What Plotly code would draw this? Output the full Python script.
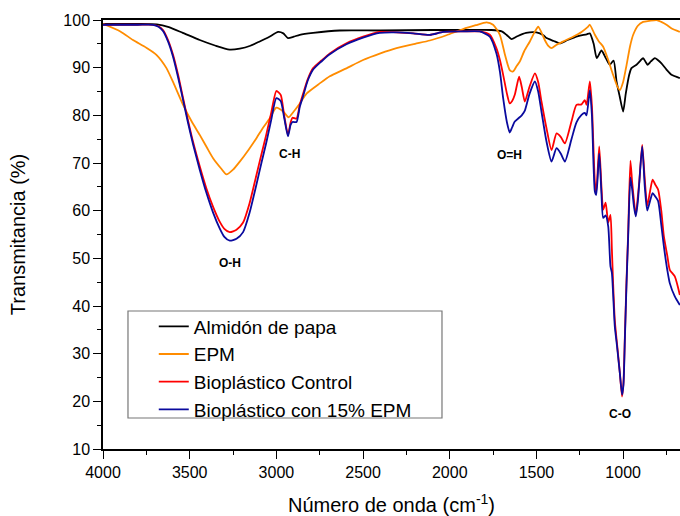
import plotly.graph_objects as go

# ---------------- data (wavenumber cm-1, transmittance %) ----------------
almidon_x = [4000, 3800, 3690, 3620, 3540, 3442, 3350, 3270, 3211, 3150, 3096, 3040, 2990, 2960, 2933,
             2900, 2865, 2788, 2634, 2400, 2100, 1900, 1760, 1700, 1670, 1644, 1610, 1560, 1500, 1460,
             1442, 1400, 1365, 1320, 1260, 1210, 1192, 1170, 1152, 1125, 1100, 1077, 1055, 1038, 1020,
             1000, 985, 965, 952, 923, 900, 885, 870, 858, 840, 817, 800, 779, 750, 721, 673]
almidon_y = [99.2, 99.2, 99.1, 98.5, 97.3, 95.8, 94.6, 93.8, 94.0, 94.6, 95.5, 96.5, 97.5, 97.2, 96.2,
             96.5, 96.9, 97.3, 97.8, 97.8, 97.9, 97.9, 97.9, 97.6, 96.8, 96.0, 96.6, 97.3, 97.4, 96.8,
             96.2, 95.6, 95.1, 95.8, 96.6, 97.0, 97.2, 95.0, 92.0, 93.6, 92.0, 90.6, 91.5, 87.1, 84.0,
             80.8, 84.5, 88.5, 89.9, 90.6, 91.5, 92.0, 91.2, 90.6, 91.3, 92.0, 91.6, 90.9, 89.6, 88.5, 87.8]

epm_x = [4000, 3900, 3827, 3750, 3692, 3634, 3590, 3538, 3490, 3442, 3400, 3365, 3320, 3288, 3250,
         3211, 3160, 3115, 3075, 3038, 3000, 2961, 2930, 2900, 2865, 2825, 2750, 2692, 2600, 2500,
         2400, 2307, 2200, 2115, 2019, 1923, 1850, 1788, 1750, 1711, 1680, 1654, 1635, 1615, 1596,
         1570, 1538, 1510, 1490, 1470, 1452, 1430, 1413, 1384, 1340, 1289, 1240, 1205, 1192, 1163,
         1140, 1115, 1085, 1058, 1035, 1019, 1000, 980, 960, 942, 915, 885, 850, 807, 780, 750, 720, 673]
epm_y = [99.2, 97.6, 95.8, 94.2, 92.7, 89.9, 86.5, 82.2, 78.8, 75.9, 73.2, 71.0, 68.9, 67.6, 68.6,
         70.3, 72.8, 75.2, 77.5, 79.4, 81.6, 80.8, 79.6, 80.8, 82.5, 84.6, 86.7, 88.2, 89.8, 91.6,
         93.0, 94.1, 95.0, 95.7, 96.8, 98.1, 98.9, 99.5, 99.0, 96.9, 92.5, 89.5, 89.2, 90.3, 91.3,
         93.5, 95.5, 97.5, 98.6, 97.3, 95.8, 94.5, 94.1, 94.8, 95.6, 96.5, 97.5, 98.5, 99.0, 96.9,
         95.5, 94.4, 91.5, 88.5, 86.2, 85.3, 87.0, 90.6, 94.5, 96.9, 98.8, 99.6, 99.8, 100.0, 99.6, 99.0, 98.2, 97.5]

bio_x = [4000, 3800, 3712, 3680, 3654, 3625, 3596, 3567, 3538, 3510, 3481, 3442, 3404, 3365, 3327,
         3300, 3269, 3230, 3192, 3155, 3115, 3085, 3058, 3030, 3000, 2975, 2955, 2933, 2918, 2907,
         2884, 2865, 2846, 2820, 2788, 2740, 2692, 2596, 2500, 2404, 2307, 2211, 2115, 2038, 1923,
         1827, 1769, 1731, 1710, 1692, 1670, 1654, 1640, 1625, 1600, 1585, 1567, 1540, 1509, 1490,
         1471, 1442, 1413, 1384, 1360, 1336, 1298, 1269, 1240, 1221, 1211, 1192, 1180, 1163, 1155,
         1138, 1125, 1115, 1101, 1086, 1073, 1065, 1058, 1048, 1035, 1019, 1006, 998, 990, 981,
         971, 958, 948, 938, 927, 915, 907, 890, 875, 861, 845, 830, 815, 798, 780, 765, 745, 731, 702, 673]
control_y = [99.0, 99.0, 99.0, 98.7, 97.9, 95.8, 92.7, 88.5, 83.6, 79.0, 74.5, 69.3, 64.7, 60.8, 57.7,
             56.2, 55.5, 56.0, 57.5, 61.5, 67.5, 72.0, 76.0, 80.5, 85.1, 84.3, 80.0, 75.9, 78.5, 79.5,
             79.3, 82.2, 84.5, 87.5, 89.9, 91.5, 93.0, 95.1, 96.5, 97.5, 97.4, 97.2, 96.9, 97.5, 97.6,
             97.6, 96.9, 94.1, 91.5, 88.5, 84.5, 82.5, 83.0, 84.3, 88.1, 86.0, 82.9, 86.0, 88.8, 87.0,
             82.9, 77.3, 72.7, 76.2, 75.5, 74.1, 78.7, 82.2, 82.3, 83.2, 82.2, 87.1, 82.0, 66.0, 63.8,
             73.5, 65.0, 60.2, 61.7, 57.5, 59.1, 52.0, 45.0, 37.0, 32.0, 26.0, 21.0, 24.0, 33.6, 44.8,
             55.3, 70.5, 66.0, 62.3, 59.0, 63.0, 66.0, 73.8, 66.5, 61.0, 64.0, 66.5, 65.5, 64.4, 60.0,
             54.6, 50.5, 47.6, 46.2, 42.3]
epm15_y = [99.0, 99.0, 99.0, 98.6, 97.7, 95.5, 92.3, 88.0, 83.2, 78.5, 74.0, 68.6, 63.8, 59.6, 56.3,
           54.5, 53.7, 54.1, 55.5, 59.5, 65.5, 70.2, 74.3, 79.0, 83.6, 83.0, 79.5, 75.6, 78.0, 78.6,
           78.6, 81.8, 84.0, 87.2, 89.6, 91.3, 92.8, 94.9, 96.3, 97.3, 97.4, 97.2, 96.9, 97.5, 97.6,
           97.6, 96.5, 93.0, 89.0, 83.6, 78.5, 76.4, 77.5, 78.7, 79.5, 80.0, 81.0, 84.5, 87.1, 85.0,
           80.8, 74.5, 70.3, 73.1, 72.0, 70.3, 75.0, 78.5, 80.1, 80.5, 80.0, 85.3, 80.0, 64.0, 63.3,
           72.0, 63.5, 58.5, 59.0, 56.7, 48.3, 47.0, 42.7, 35.7, 31.5, 25.9, 21.4, 23.5, 33.0, 44.0,
           54.5, 67.0, 64.5, 61.0, 58.8, 62.0, 65.8, 73.5, 65.0, 60.0, 62.0, 63.7, 63.0, 62.0, 57.0,
           52.5, 47.5, 44.8, 42.0, 40.2]

series_names = ["Almidón de papa", "EPM", "Bioplástico Control", "Bioplástico con 15% EPM"]
band_labels = ["O-H", "C-H", "O=H", "C-O"]
band_x = [3269, 2922, 1658, 1018]
band_y = [49.1, 71.9, 71.7, 17.4]

x_ticks = [4000, 3500, 3000, 2500, 2000, 1500, 1000]
y_ticks = [10, 20, 30, 40, 50, 60, 70, 80, 90, 100]

# ---------------- figure ----------------
FONT = "Arial, 'Liberation Sans', sans-serif"
colors = ["#000000", "#FF8C00", "#FF0000", "#0A0A9E"]
xs = [almidon_x, epm_x, bio_x, bio_x]
ys = [almidon_y, epm_y, control_y, epm15_y]

fig = go.Figure()
for name, x, y, c in zip(series_names, xs, ys, colors):
    fig.add_trace(go.Scatter(x=x, y=y, mode="lines", name=name,
                             line=dict(color=c, width=1.8, shape="spline", smoothing=0.6)))

for t, bx, by in zip(band_labels, band_x, band_y):
    fig.add_annotation(x=bx, y=by, text=t, showarrow=False,
                       font=dict(family=FONT, size=12, color="black", weight="bold"))

# legend frame
fig.add_shape(type="rect", xref="paper", yref="paper",
              x0=0.0433, x1=0.5875, y0=0.0723, y1=0.3217,
              line=dict(color="#777777", width=1.2), fillcolor="white", layer="above")

fig.update_layout(
    width=680, height=516,
    margin=dict(l=103, r=0, t=20, b=67, autoexpand=False),
    paper_bgcolor="white", plot_bgcolor="white",
    font=dict(family=FONT, color="black"),
    showlegend=True,
    legend=dict(x=0.088, y=0.33, xanchor="left", yanchor="top",
                bgcolor="rgba(0,0,0,0)", borderwidth=0,
                font=dict(family=FONT, size=19, color="black"),
                tracegroupgap=0, itemwidth=30),
    xaxis=dict(range=[4000, 672], tickvals=x_ticks, showgrid=False, zeroline=False,
               automargin=True,
               showline=True, linecolor="black", linewidth=1.5, mirror=True,
               ticks="outside", ticklen=8, tickwidth=1.3, tickcolor="black",
               tickfont=dict(family=FONT, size=16),
               minor=dict(dtick=250, ticks="outside", ticklen=4, tickwidth=1.3, tickcolor="black"),
               title=dict(text="Número de onda (cm<sup>-1</sup>)", font=dict(family=FONT, size=20),
                          standoff=20)),
    yaxis=dict(range=[10, 100], tickvals=y_ticks, showgrid=False, zeroline=False,
               automargin=True,
               showline=True, linecolor="black", linewidth=1.5,
               ticks="outside", ticklen=8, tickwidth=1.3, tickcolor="black",
               tickfont=dict(family=FONT, size=16),
               minor=dict(dtick=5, ticks="outside", ticklen=4, tickwidth=1.3, tickcolor="black"),
               title=dict(text="Transmitancia (%)", font=dict(family=FONT, size=20),
                          standoff=32)),
)

# remove the page's default body margin and scrollbars so the figure fills the window
fig.write_html("out.html", config={"displayModeBar": False},
               post_script="document.body.style.margin='0';document.body.style.overflow='hidden';")
